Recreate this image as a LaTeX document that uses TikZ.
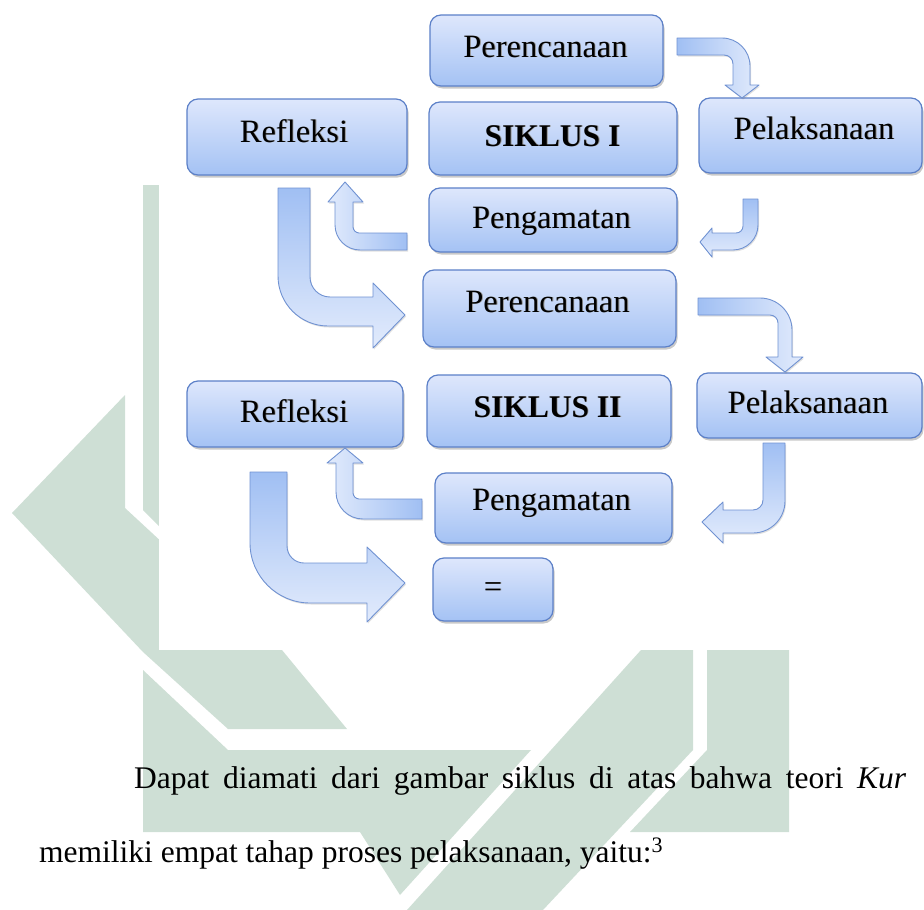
\documentclass[tikz,border=0pt]{standalone}
\usepackage{fontspec}
\setmainfont{Liberation Serif}
\usetikzlibrary{shadows}
\definecolor{wm}{RGB}{206,223,213}
\definecolor{boxtop}{RGB}{222,231,252}
\definecolor{boxbot}{RGB}{164,194,244}
\definecolor{boxline}{RGB}{92,128,200}
\definecolor{arrdark}{RGB}{160,191,243}
\definecolor{arrlight}{RGB}{226,235,252}
\definecolor{arrline}{RGB}{112,146,210}
\newcommand\shtext[1]{\rlap{\kern0.9pt\raisebox{-0.9pt}{\textcolor{black!40}{#1}}}#1}
\begin{document}
\begin{tikzpicture}[x=1pt,y=-1pt,
  box/.style={draw=boxline, line width=1.2pt, rounded corners=11pt, top color=boxtop, bottom color=boxbot,
    drop shadow={shadow xshift=1.5pt, shadow yshift=-2.5pt, opacity=0.35, fill=black!60}, inner sep=0pt},
  lbl/.style={anchor=base, inner sep=0pt, font=\fontsize{32.5}{39}\selectfont},
  blbl/.style={anchor=base, inner sep=0pt, font=\fontsize{31.5}{38}\selectfont\bfseries},
  barrow/.style={draw=arrline, line width=0.9pt, line join=round,
    drop shadow={shadow xshift=1pt, shadow yshift=-1.5pt, opacity=0.2, fill=black!60}},
  body/.style={anchor=base west, inner sep=0pt, font=\fontsize{31.5}{38}\selectfont}
]
\useasboundingbox (0,0) rectangle (924,910);
\clip (0,0) rectangle (924,910);
% watermark
\fill[wm] (143,185) -- (170,185) -- (170,537) -- (143,510) -- cycle;
\fill[wm] (12,513) -- (125,395) -- (125,508) -- (165,545) -- (282,650) -- (347,729) -- (228,729) -- (143,652) -- cycle;
\fill[wm] (143,670) -- (228,750) -- (531,750) -- (400,895) -- (360,832) -- (143,832) -- cycle;
\fill[wm] (641,650) -- (693,650) -- (693,750) -- (543,910) -- (407,910) -- cycle;
\fill[wm] (707,650) -- (789,650) -- (789,832) -- (630,832) -- (707,750) -- cycle;
\fill[white] (159,0) rectangle (924,650);
% boxes
\node[box, minimum width=233pt, minimum height=71pt] (p1) at (546.5,50.5) {};
\node[box, minimum width=248pt, minimum height=73pt] (s1) at (553,138.5) {};
\node[box, minimum width=223pt, minimum height=75pt] (l1) at (810.5,135.5) {};
\node[box, minimum width=248pt, minimum height=64pt] (g1) at (553,220) {};
\node[box, minimum width=220pt, minimum height=76pt] (r1) at (297,137) {};
\node[box, minimum width=253pt, minimum height=77pt] (p2) at (549.5,308.5) {};
\node[box, minimum width=216pt, minimum height=66pt] (r2) at (295,414) {};
\node[box, minimum width=244pt, minimum height=72pt] (s2) at (549,411) {};
\node[box, minimum width=225pt, minimum height=65pt] (l2) at (809.5,405.5) {};
\node[box, minimum width=237pt, minimum height=70pt] (g2) at (553.5,508) {};
\node[box, minimum width=120pt, minimum height=63pt] (eq) at (493,589.5) {};
% labels
\node[lbl] (tp1) at (545.5,57) {\shtext{Perencanaan}};
\node[blbl] (ts1) at (552.5,146) {\shtext{SIKLUS I}};
\node[lbl] (tl1) at (814,139) {\shtext{Pelaksanaan}};
\node[lbl] (tg1) at (551.5,228) {\shtext{Pengamatan}};
\node[lbl] (tr1) at (294,142) {\shtext{Refleksi}};
\node[lbl] (tp2) at (547.5,312) {\shtext{Perencanaan}};
\node[blbl] (ts2) at (547.5,417) {\shtext{SIKLUS II}};
\node[lbl] (tl2) at (808,413) {\shtext{Pelaksanaan}};
\node[lbl] (tg2) at (551.5,510) {\shtext{Pengamatan}};
\node[lbl] (tr2) at (294,422) {\shtext{Refleksi}};
\node[lbl] (teq) at (493,597) {\shtext{=}};
% block arrows
\path[barrow, left color=arrdark, right color=arrlight] (677,38) -- (722,38) .. controls (737.5,38) and (750,50.5) .. (750,66) -- (750,85) -- (759,85) -- (742,98) -- (725,85) -- (733,85) -- (733,64) .. controls (733,59) and (729,55) .. (724,55) -- (677,55) -- cycle;
\path[barrow, top color=arrdark, bottom color=arrlight] (743,199) -- (758,199) -- (758,225) .. controls (758,238.8) and (746.8,250) .. (733,250) -- (712,250) -- (712,257) -- (700,242) -- (712,228) -- (712,233) -- (736,233) .. controls (740,233) and (743,230) .. (743,226) -- cycle;
\path[barrow, left color=arrlight, right color=arrdark] (407,233) -- (359,233) .. controls (356,233) and (353,230) .. (353,227) -- (353,202) -- (363,202) -- (345,182) -- (328,202) -- (335,202) -- (335,225) .. controls (335,238.8) and (346.2,250) .. (360,250) -- (407,250) -- cycle;
\path[barrow, top color=arrdark, bottom color=arrlight] (278,188) -- (310,188) -- (310,277) .. controls (310,288) and (319,297) .. (330,297) -- (373,297) -- (373,283) -- (405,315) -- (373,348) -- (373,326) -- (328,326) .. controls (300.4,326) and (278,303.6) .. (278,276) -- cycle;
\path[barrow, left color=arrdark, right color=arrlight] (698,298) -- (760,298) .. controls (777.7,298) and (792,312.3) .. (792,330) -- (792,357) -- (803,357) -- (785,372) -- (766,357) -- (778,357) -- (778,323) .. controls (778,318.6) and (774.4,315) .. (770,315) -- (698,315) -- cycle;
\path[barrow, top color=arrdark, bottom color=arrlight] (763,443) -- (785,443) -- (785,501) .. controls (785,518.7) and (770.7,533) .. (753,533) -- (723,533) -- (723,543) -- (702,522) -- (723,502) -- (723,510) -- (753,510) .. controls (758.5,510) and (763,505.5) .. (763,500) -- cycle;
\path[barrow, left color=arrlight, right color=arrdark] (422,499) -- (359,499) .. controls (356,499) and (353,496) .. (353,493) -- (353,463) -- (363,463) -- (345,448) -- (327,463) -- (336,463) -- (336,492) .. controls (336,507) and (348,519) .. (363,519) -- (422,519) -- cycle;
\path[barrow, top color=arrdark, bottom color=arrlight] (250,472) -- (287,472) -- (287,546) .. controls (287,555.4) and (294.6,563) .. (304,563) -- (367,563) -- (367,547) -- (405,583) -- (367,622) -- (367,603) -- (310,603) .. controls (277,603) and (250,576) .. (250,543) -- cycle;
% body text
\node[body] (line1) at (134,788) {\makebox[772pt][s]{Dapat diamati dari gambar siklus di atas bahwa teori \textit{Kur}}};
\node[body] (line2) at (39,862) {memiliki empat tahap proses pelaksanaan, yaitu:\textsuperscript{3}};
\end{tikzpicture}
\end{document}
